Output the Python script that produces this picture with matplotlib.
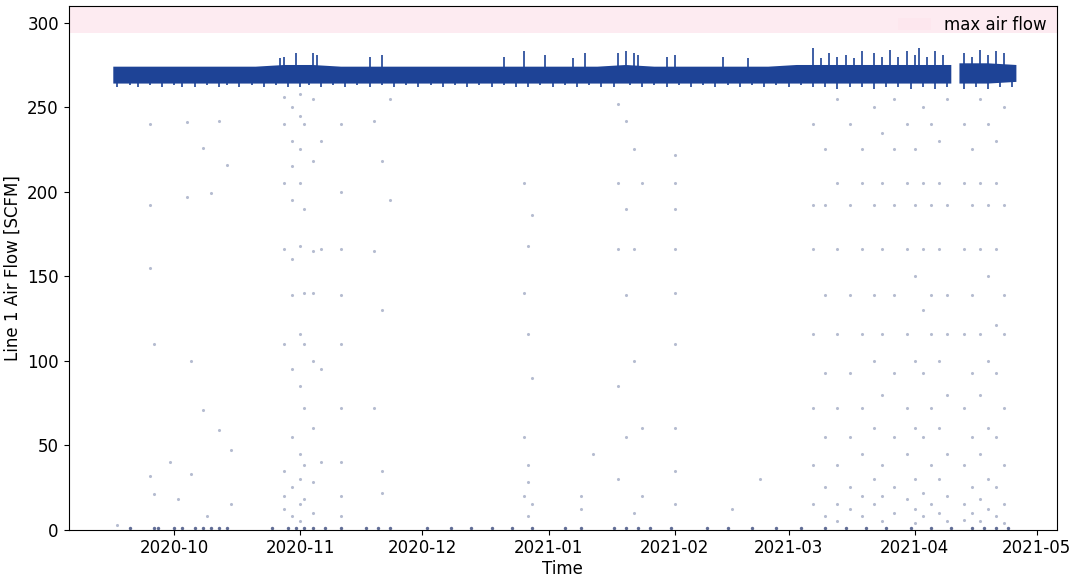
import numpy as np
import pandas as pd
import matplotlib
matplotlib.use("Agg")
import matplotlib.pyplot as plt
import matplotlib.dates as mdates

# главная полоса ~270 SCFM (недельные огибающие)
band_dates = ["2020-09-16", "2020-09-23", "2020-09-30", "2020-10-07", "2020-10-14",
              "2020-10-21", "2020-10-28", "2020-11-04", "2020-11-11", "2020-11-18",
              "2020-11-25", "2020-12-02", "2020-12-09", "2020-12-16", "2020-12-23",
              "2020-12-30", "2021-01-06", "2021-01-13", "2021-01-20", "2021-01-27",
              "2021-02-03", "2021-02-10", "2021-02-17", "2021-02-24", "2021-03-03",
              "2021-03-10", "2021-03-17", "2021-03-24", "2021-03-31", "2021-04-07",
              "2021-04-10", "2021-04-11", "2021-04-12", "2021-04-19", "2021-04-26"]
band_top = [274, 274, 274, 274, 274, 274, 275, 275, 274, 274, 274, 274, 274, 274, 274,
            274, 274, 274, 275, 274, 274, 274, 274, 274, 275, 275, 275, 275, 275, 275,
            275, np.nan, 276, 276, 275]
band_bot = [264, 264, 264, 264, 264, 264, 264, 264, 264, 264, 264, 264, 264, 264, 264,
            264, 264, 264, 264, 264, 264, 264, 264, 264, 264, 264, 264, 264, 264, 264,
            264, np.nan, 264, 264, 265]

# зубцы вниз у нижнего края полосы
dip_dates = ["2020-09-17", "2020-09-20", "2020-09-22", "2020-09-25", "2020-09-28",
             "2020-10-01", "2020-10-03", "2020-10-06", "2020-10-09", "2020-10-12",
             "2020-10-14", "2020-10-17", "2020-10-20", "2020-10-23", "2020-10-26",
             "2020-10-29", "2020-11-01", "2020-11-03", "2020-11-06", "2020-11-09",
             "2020-11-12", "2020-11-15", "2020-11-18", "2020-11-21", "2020-11-24",
             "2020-11-27", "2020-11-30", "2020-12-03", "2020-12-06", "2020-12-09",
             "2020-12-12", "2020-12-15", "2020-12-18", "2020-12-21", "2020-12-24",
             "2020-12-27", "2020-12-30", "2021-01-02", "2021-01-05", "2021-01-08",
             "2021-01-11", "2021-01-14", "2021-01-17", "2021-01-21", "2021-01-24",
             "2021-01-27", "2021-01-30", "2021-02-02", "2021-02-05", "2021-02-08",
             "2021-02-11", "2021-02-14", "2021-02-17", "2021-02-20", "2021-02-23",
             "2021-02-26", "2021-03-01", "2021-03-04", "2021-03-07", "2021-03-10",
             "2021-03-13", "2021-03-16", "2021-03-19", "2021-03-22", "2021-03-25",
             "2021-03-28", "2021-03-31", "2021-04-03", "2021-04-06", "2021-04-09",
             "2021-04-13", "2021-04-16", "2021-04-19", "2021-04-22", "2021-04-25"]
dip_lows = [262, 263, 262, 263, 262, 263, 262, 262, 263, 262, 263, 262, 263, 262, 263,
            262, 262, 263, 262, 263, 262, 263, 262, 263, 262, 263, 262, 263, 262, 263,
            262, 263, 262, 263, 262, 262, 263, 262, 263, 262, 263, 262, 262, 263, 262,
            263, 262, 263, 262, 263, 262, 263, 262, 263, 262, 263, 262, 263, 262, 262,
            261, 262, 262, 261, 262, 262, 261, 262, 261, 262, 261, 262, 261, 262, 262]

# выбросы вверх над полосой
spike_dates = ["2020-10-27", "2020-10-28", "2020-10-31", "2020-11-04", "2020-11-05",
               "2020-11-18", "2020-11-21", "2020-12-21", "2020-12-26", "2020-12-31",
               "2021-01-07", "2021-01-10", "2021-01-18", "2021-01-20", "2021-01-22",
               "2021-01-23", "2021-01-30", "2021-02-01", "2021-02-13", "2021-02-19",
               "2021-03-07", "2021-03-09", "2021-03-11", "2021-03-13", "2021-03-15",
               "2021-03-17", "2021-03-19", "2021-03-22", "2021-03-24", "2021-03-26",
               "2021-03-28", "2021-03-30", "2021-04-01", "2021-04-02", "2021-04-04",
               "2021-04-06", "2021-04-08", "2021-04-13", "2021-04-15", "2021-04-17",
               "2021-04-19", "2021-04-21", "2021-04-23"]
spike_tops = [279, 280, 282, 282, 281, 280, 281, 280, 283, 281, 279, 282, 282, 283, 282,
              281, 280, 281, 280, 279, 285, 279, 282, 280, 281, 279, 283, 282, 280, 284,
              280, 283, 281, 285, 280, 283, 281, 282, 280, 284, 281, 283, 282]

# редкие точки ниже полосы
low_dates = ["2020-09-17", "2020-09-25", "2020-09-26", "2020-09-30", "2020-10-02",
             "2020-10-04", "2020-10-05", "2020-10-08", "2020-10-09", "2020-10-10",
             "2020-10-12", "2020-10-14", "2020-10-15",
             "2020-10-28", "2020-10-30", "2020-11-01", "2020-11-02", "2020-11-04",
             "2020-11-06", "2020-11-11", "2020-11-19", "2020-11-21", "2020-11-23",
             "2020-12-26", "2020-12-27", "2020-12-28", "2021-01-09", "2021-01-12",
             "2021-01-18", "2021-01-20", "2021-01-22", "2021-01-24", "2021-02-01",
             "2021-02-15", "2021-02-22",
             "2021-03-07", "2021-03-10", "2021-03-13", "2021-03-16", "2021-03-19",
             "2021-03-22", "2021-03-24", "2021-03-27", "2021-03-30", "2021-04-01",
             "2021-04-03", "2021-04-05", "2021-04-07", "2021-04-09", "2021-04-13",
             "2021-04-15", "2021-04-17", "2021-04-19", "2021-04-21", "2021-04-23"]
low_vals = [[3], [240, 192, 155, 32], [21, 110], [40], [18],
            [241, 197], [33, 100], [226, 71], [8], [199],
            [59, 242], [216], [47, 15],
            [256, 240, 205, 166, 110, 35, 20, 12],
            [250, 230, 215, 195, 160, 139, 95, 55, 25, 8],
            [258, 245, 225, 205, 168, 116, 85, 45, 30, 15, 5],
            [240, 190, 140, 110, 72, 38, 18],
            [255, 218, 165, 140, 100, 60, 28, 10],
            [230, 166, 95, 40],
            [240, 200, 166, 139, 110, 72, 40, 20, 8],
            [242, 165, 72], [218, 130, 35, 22], [255, 195],
            [205, 140, 55, 20], [168, 116, 38, 28, 8], [186, 90, 15],
            [20, 12], [45],
            [252, 205, 166, 85, 30], [242, 190, 139, 55], [225, 166, 100, 10],
            [205, 60, 20], [222, 205, 190, 166, 140, 110, 60, 35, 15],
            [12], [30],
            [240, 192, 166, 116, 72, 38, 15],
            [225, 192, 139, 93, 55, 25, 8],
            [255, 205, 166, 116, 72, 38, 15, 5],
            [240, 192, 139, 93, 55, 25, 12],
            [225, 205, 166, 116, 72, 45, 20, 8],
            [250, 192, 139, 100, 60, 30, 15],
            [235, 205, 166, 116, 80, 38, 20, 5],
            [255, 225, 192, 139, 93, 55, 25, 10],
            [240, 205, 166, 116, 72, 45, 18],
            [225, 192, 150, 100, 60, 30, 12, 4],
            [250, 205, 166, 130, 93, 55, 22, 8],
            [240, 192, 139, 116, 72, 38, 15],
            [230, 205, 166, 100, 60, 30, 10],
            [255, 192, 139, 116, 80, 45, 20, 5],
            [240, 205, 166, 116, 72, 38, 15, 6],
            [225, 192, 139, 93, 55, 25, 10],
            [255, 205, 166, 116, 80, 45, 18, 5],
            [240, 192, 150, 100, 60, 30, 12],
            [230, 205, 166, 121, 93, 55, 25, 8],
            [250, 192, 139, 116, 72, 38, 15, 4]]

# точки около нуля (простои)
zero_dates = ["2020-09-20", "2020-09-26", "2020-09-27", "2020-10-01", "2020-10-03",
              "2020-10-06", "2020-10-08", "2020-10-10", "2020-10-12", "2020-10-14",
              "2020-10-25", "2020-10-29", "2020-10-31", "2020-11-02", "2020-11-04",
              "2020-11-07", "2020-11-11", "2020-11-17", "2020-11-20", "2020-11-23",
              "2020-12-02", "2020-12-08", "2020-12-13", "2020-12-18", "2020-12-23",
              "2020-12-28", "2021-01-05", "2021-01-09", "2021-01-17", "2021-01-20",
              "2021-01-23", "2021-01-26", "2021-01-31", "2021-02-09", "2021-02-14",
              "2021-02-20", "2021-02-26", "2021-03-04", "2021-03-10", "2021-03-15",
              "2021-03-20", "2021-03-25", "2021-03-31", "2021-04-05", "2021-04-10",
              "2021-04-15", "2021-04-18", "2021-04-21", "2021-04-24"]

max_flow_lo, max_flow_hi = 294, 310

band_x = pd.to_datetime(band_dates)
lx, ly = [], []
for d, vals in zip(low_dates, low_vals):
    for v in vals:
        lx.append(pd.Timestamp(d))
        ly.append(v)

fig, ax = plt.subplots(figsize=(10.71, 5.84), dpi=100)
fig.subplots_adjust(left=0.064, right=0.987, top=0.99, bottom=0.093)

ax.axhspan(max_flow_lo, max_flow_hi, color="#fde6ee", alpha=0.8, lw=0, label="max air flow")

blue = "#1e4396"
ax.fill_between(band_x, band_bot, band_top, color=blue, lw=0)
ax.vlines(pd.to_datetime(dip_dates), dip_lows, 265, color=blue, lw=1.2)
ax.vlines(pd.to_datetime(spike_dates), 272, spike_tops, color=blue, lw=1.2)
ax.scatter(lx, ly, s=5, color="#2b3f7a", alpha=0.35, lw=0)
ax.scatter(pd.to_datetime(zero_dates), [1] * len(zero_dates), s=6, color="#1e2f6a", alpha=0.7, lw=0)

ax.set_ylim(0, 310)
ax.set_xlim(pd.Timestamp("2020-09-05"), pd.Timestamp("2021-05-06"))
ax.xaxis.set_major_locator(mdates.MonthLocator())
ax.xaxis.set_major_formatter(mdates.DateFormatter("%Y-%m"))
ax.tick_params(labelsize=12)
ax.set_xlabel("Time", fontsize=12, labelpad=2)
ax.set_ylabel("Line 1 Air Flow [SCFM]", fontsize=12)
ax.legend(loc="upper right", frameon=False, fontsize=12, borderaxespad=0.2)

fig.savefig("out.png")
